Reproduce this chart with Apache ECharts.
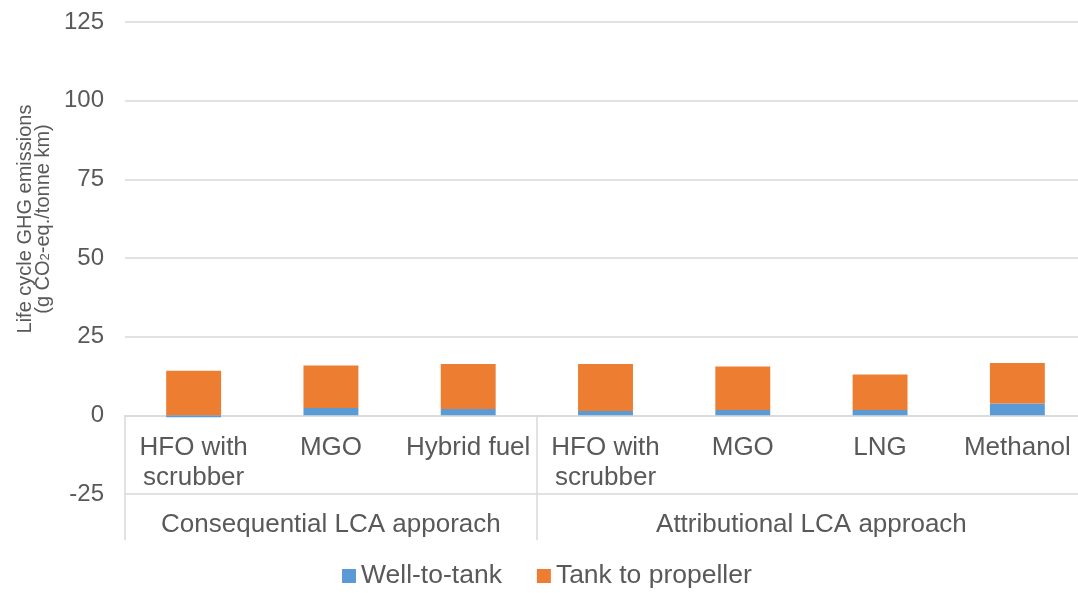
<!DOCTYPE html>
<html>
<head>
<meta charset="utf-8">
<style>
  html, body { margin: 0; padding: 0; background: #ffffff; }
  #chart { width: 1078px; height: 593px; }
</style>
<script src="https://cdn.jsdelivr.net/npm/echarts@6/dist/echarts.min.js"></script>
</head>
<body>
<div id="chart"></div>
<script>
// Fuel pathways, grouped by LCA approach
const categories = ['HFO with\nscrubber', 'MGO', 'Hybrid fuel', 'HFO with\nscrubber', 'MGO', 'LNG', 'Methanol'];
const groupNames = ['Consequential LCA apporach', 'Attributional LCA approach'];
const groupFirst = [0, 3];
const groupLast = [2, 6];

// Life cycle GHG emissions, g CO2-eq./tonne km
const wellToTank = [-0.6, 2.3, 2.0, 1.4, 1.7, 1.7, 3.8];
const tankToPropeller = [14.2, 13.5, 14.3, 14.9, 13.8, 11.3, 12.8];

// Value axis range
const yMin = -25;
const yMax = 125;
const yStep = 25;

const FONT = '"Liberation Sans", Arial, sans-serif';
const TEXT = '#595959';
const GRID = '#D9D9D9';

const chart = echarts.init(document.getElementById('chart'), null, { renderer: 'canvas' });

chart.setOption({
  animation: false,
  backgroundColor: '#ffffff',
  grid: { left: 125, top: 22, width: 961, height: 472, containLabel: false, outerBoundsMode: 'none' },
  legend: {
    left: 337,
    top: 556,
    icon: 'rect',
    itemWidth: 14,
    itemHeight: 14,
    itemGap: 35,
    textStyle: { fontFamily: FONT, fontSize: 26.5, color: TEXT, lineHeight: 30 },
    data: ['Well-to-tank', 'Tank to propeller']
  },
  xAxis: {
    type: 'category',
    data: categories,
    axisLine: { onZero: true, lineStyle: { color: GRID, width: 1.5 } },
    axisTick: {
      show: true,
      alignWithLabel: false,
      length: 125,
      interval: function (index) { return groupFirst.indexOf(index) !== -1; },
      lineStyle: { color: GRID, width: 1.5 }
    },
    axisLabel: {
      interval: 0,
      margin: -61,
      fontFamily: FONT,
      fontSize: 26,
      lineHeight: 30,
      color: TEXT
    }
  },
  yAxis: {
    type: 'value',
    min: yMin,
    max: yMax,
    interval: yStep,
    axisLine: { show: false },
    axisTick: { show: false },
    splitLine: { show: true, lineStyle: { color: GRID, width: 1.5 } },
    axisLabel: { margin: 21, fontFamily: FONT, fontSize: 24, color: TEXT }
  },
  series: [
    {
      name: 'Well-to-tank',
      type: 'bar',
      stack: 'total',
      barWidth: '40%',
      itemStyle: { color: '#5B9BD5' },
      data: wellToTank
    },
    {
      name: 'Tank to propeller',
      type: 'bar',
      stack: 'total',
      barWidth: '40%',
      itemStyle: { color: '#ED7D31' },
      data: tankToPropeller
    }
  ]
});

// Group captions under the category labels, centred on each group's span
const groupY = chart.convertToPixel({ yAxisIndex: 0 }, yMin) + 31;
const groupTexts = groupNames.map(function (name, i) {
  const x0 = chart.convertToPixel({ xAxisIndex: 0 }, groupFirst[i]);
  const x1 = chart.convertToPixel({ xAxisIndex: 0 }, groupLast[i]);
  return {
    type: 'text',
    x: (x0 + x1) / 2,
    y: groupY,
    style: {
      text: name,
      fill: TEXT,
      font: '26px ' + FONT,
      align: 'center',
      verticalAlign: 'middle'
    }
  };
});

// Vertical value-axis title with subscript
const yTitle = {
  type: 'text',
  x: 34,
  y: 219,
  rotation: Math.PI / 2,
  style: {
    text: 'Life cycle GHG emissions\n(g CO{sub|2}-eq./tonne km)',
    fill: TEXT,
    fontFamily: FONT,
    fontSize: 20,
    lineHeight: 18,
    align: 'center',
    verticalAlign: 'middle',
    rich: {
      sub: { fontFamily: FONT, fontSize: 13, fill: TEXT, verticalAlign: 'bottom', lineHeight: 13 }
    }
  }
};

chart.setOption({ graphic: groupTexts.concat([yTitle]) });
</script>
</body>
</html>
